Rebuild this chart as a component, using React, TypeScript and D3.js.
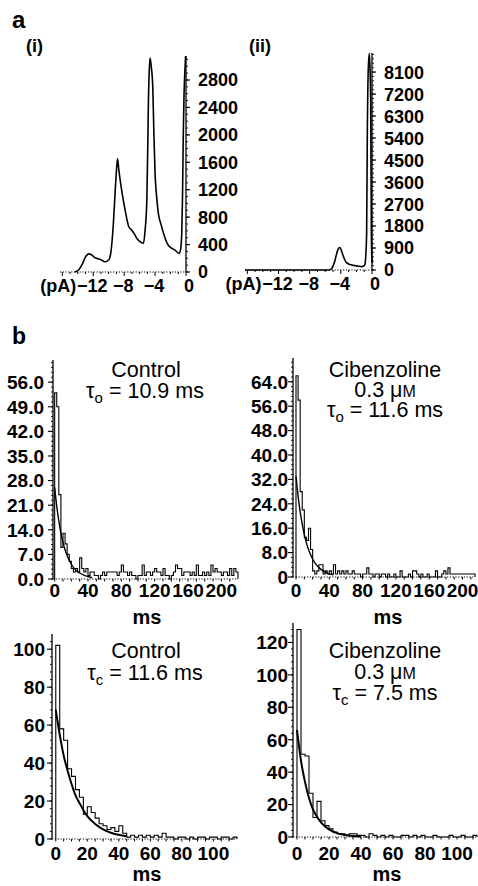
import { useEffect, useRef } from "react";
import * as d3 from "d3";

const FONT = "'Liberation Sans', Arial, Helvetica, sans-serif";

// panel a: amplitude histograms, pA vs counts
const ampCtlPA = [-14.4, -13.9, -13.4, -13.0, -12.6, -12.2, -11.8, -11.4, -11.0, -10.5, -10.0, -9.7, -9.4, -9.15, -8.95, -8.85, -8.7, -8.4, -8.1, -7.7, -7.4, -7.1, -6.7, -6.3, -5.9, -5.5, -5.3, -5.07, -4.95, -4.86, -4.75, -4.65, -4.5, -4.3, -4.15, -4.0, -3.8, -3.57, -3.2, -2.9, -2.6, -2.28, -1.9, -1.42, -0.9, -0.7, -0.55, -0.45, -0.35, -0.25, -0.13, -0.05];
const ampCtlCount = [0, 30, 120, 220, 265, 250, 210, 195, 180, 150, 175, 300, 700, 1200, 1550, 1650, 1500, 1250, 1040, 800, 660, 620, 560, 480, 440, 420, 600, 1040, 1800, 2490, 2950, 3120, 3000, 2700, 2000, 1430, 1100, 850, 680, 560, 460, 390, 350, 320, 270, 330, 560, 1100, 2010, 2600, 2975, 3150];

const ampCibPA = [-16.3, -5.5, -5.2, -4.95, -4.77, -4.55, -4.35, -4.13, -3.95, -3.78, -3.5, -3.27, -2.8, -2.4, -1.8, -1.33, -1.05, -0.9, -0.78, -0.69, -0.6, -0.47, -0.34, -0.25, -0.17, -0.08, 0];
const ampCibCount = [0, 0, 50, 200, 370, 650, 850, 920, 820, 650, 420, 300, 220, 190, 160, 140, 170, 235, 700, 1470, 5580, 8300, 8870, 8200, 6950, 1480, 300];

const ampXTicks = [-12, -8, -4, 0];
const ampCtlTicks = [0, 400, 800, 1200, 1600, 2000, 2400, 2800];
const ampCibTicks = [0, 900, 1800, 2700, 3600, 4500, 5400, 6300, 7200, 8100];

// panel b: dwell time histograms, 2.5 ms bins
const BIN = 2.5;
const openCtl = [
  53, 49, 24, 9, 13, 10, 7, 5, 3, 2,
  3, 2, 6, 3, 2, 3, 1, 2, 2, 1,
  1, 0, 1, 2, 1, 2, 2, 2, 2, 2,
  1, 2, 4, 2, 2, 1, 2, 1, 1, 0,
  1, 1, 4, 1, 2, 2, 1, 2, 3, 2,
  2, 1, 3, 1, 1, 0, 1, 2, 4, 3,
  3, 1, 2, 2, 2, 1, 2, 1, 4, 1,
  1, 2, 1, 2, 1, 4, 2, 3, 2, 2,
  1, 2, 2, 1, 3, 1, 3, 2,
];
const openCib = [
  66, 58, 28, 22, 13, 12, 16, 9, 2, 1,
  2, 4, 4, 1, 2, 1, 2, 1, 4, 1,
  2, 1, 2, 1, 2, 1, 1, 2, 1, 1,
  1, 0, 1, 1, 3, 1, 1, 0, 1, 1,
  0, 1, 1, 0, 1, 0, 0, 1, 0, 0,
  2, 0, 0, 0, 1, 0, 2, 2, 1, 0,
  1, 0, 0, 1, 0, 0, 0, 2, 0, 0,
  1, 2, 1, 3, 1, 1, 1, 1, 1, 1,
  1, 1, 1, 1, 1, 1,
];
const closedCtl = [
  102, 58, 52, 37, 33, 26, 22, 13, 17, 14,
  11, 8, 7, 5, 6, 4, 7, 3, 1, 2,
  1, 2, 1, 2, 1, 2, 1, 3, 1, 1,
  0, 1, 1, 0, 1, 0, 1, 1, 0, 1,
  1, 0, 1, 1, 0, 1,
];
const closedCib = [
  128, 51, 50, 27, 12, 22, 10, 7, 5, 3,
  2, 2, 1, 2, 2, 1, 1, 0, 2, 1,
  0, 1, 0, 1, 0, 0, 1, 1, 0, 1,
  0, 1, 0, 0, 1, 0, 0, 0, 1, 0,
  0, 1, 0, 0, 1,
];

// fitted exponentials
const fitT = [0, 2.5, 5, 7.5, 10, 12.5, 15, 20, 25, 30, 35, 40, 45];
const openCtlFit = [26, 20.7, 16.5, 13, 10.4, 8.3, 6.6, 4.2, 2.6, 1.7, 1.1, 0.7, 0.4];
const openCibFit = [33, 26.6, 21.4, 17.3, 13.9, 11.2, 9, 5.9, 3.8, 2.5, 1.6, 1.0, 0.7];
const closedCtlFit = [68, 55, 44, 36, 29, 23, 19, 12, 7.9, 5.1, 3.3, 2.2, 1.4];
const closedCibFit = [66, 47, 34, 24, 17, 12.5, 9, 4.6, 2.4, 1.2, 0.6, 0.3, 0.15];

const openCtlTicks = [0, 7, 14, 21, 28, 35, 42, 49, 56];
const openCibTicks = [0, 8, 16, 24, 32, 40, 48, 56, 64];
const closedCtlTicks = [0, 20, 40, 60, 80, 100];
const closedCibTicks = [0, 20, 40, 60, 80, 100, 120];
const openXTicks = [0, 40, 80, 120, 160, 200];
const closedXTicks = [0, 20, 40, 60, 80, 100];

const drawAmplitude = (svg, o) => {
  const x = d3.scaleLinear().domain([-16.3, 0]).range([o.left, o.axisX]);
  const y = d3.scaleLinear().domain([0, o.yMax]).range([o.base, o.top]);
  const g = svg.append("g");

  // y axis on the right side
  g.append("line")
    .attr("x1", o.axisX).attr("x2", o.axisX)
    .attr("y1", o.base).attr("y2", o.top)
    .attr("stroke", "#000").attr("stroke-width", 1.3);
  g.selectAll("line.yminor")
    .data(d3.range(0, o.yMax, o.minorY))
    .join("line").attr("class", "yminor")
    .attr("x1", o.axisX).attr("x2", o.axisX + 2)
    .attr("y1", (d) => y(d)).attr("y2", (d) => y(d))
    .attr("stroke", "#000").attr("stroke-width", 0.9);
  g.selectAll("line.ymajor")
    .data(o.yTicks)
    .join("line").attr("class", "ymajor")
    .attr("x1", o.axisX).attr("x2", o.axisX + 4)
    .attr("y1", (d) => y(d)).attr("y2", (d) => y(d))
    .attr("stroke", "#000").attr("stroke-width", 1.2);
  g.selectAll("text.ylab")
    .data(o.yTicks)
    .join("text").attr("class", "ylab")
    .attr("x", o.axisX + 12).attr("y", (d) => y(d)).attr("dy", "0.36em")
    .attr("font-size", 18).attr("font-weight", "bold")
    .text((d) => d);

  // dotted baseline
  g.append("line")
    .attr("x1", o.left).attr("x2", o.axisX)
    .attr("y1", o.base).attr("y2", o.base)
    .attr("stroke", "#000").attr("stroke-width", 1.2)
    .attr("stroke-dasharray", "1.2 1.6");
  g.selectAll("line.xminor")
    .data(d3.range(-16, 0.01, 1))
    .join("line").attr("class", "xminor")
    .attr("x1", (d) => x(d)).attr("x2", (d) => x(d))
    .attr("y1", o.base).attr("y2", (d) => o.base + (d % 4 === 0 ? 4 : 2))
    .attr("stroke", "#000").attr("stroke-width", 1);
  g.selectAll("text.xlab")
    .data(ampXTicks)
    .join("text").attr("class", "xlab")
    .attr("x", (d) => x(d) + (d === 0 ? 3 : -1)).attr("y", o.base + 14).attr("dy", "0.36em")
    .attr("text-anchor", "middle")
    .attr("font-size", 18).attr("font-weight", "bold")
    .text((d) => (d < 0 ? "\u2212" + Math.abs(d) : d));
  g.append("text")
    .attr("x", x(-12) - 17).attr("y", o.base + 14).attr("dy", "0.36em")
    .attr("text-anchor", "end")
    .attr("font-size", 18).attr("font-weight", "bold")
    .text("(pA)");

  const line = d3.line()
    .x((d) => x(d[0]))
    .y((d) => y(d[1]))
    .curve(d3.curveMonotoneX);
  g.append("path")
    .attr("d", line(d3.zip(o.pa, o.counts)))
    .attr("fill", "none").attr("stroke", "#000").attr("stroke-width", 1.6);
};

const drawDwell = (svg, o) => {
  const x = d3.scaleLinear().domain([o.lo, o.hi]).range([o.left, o.right]);
  const y = d3.scaleLinear().domain([0, o.yMax]).range([o.base, o.top]);
  const g = svg.append("g");

  // y axis
  g.append("line")
    .attr("x1", o.left).attr("x2", o.left)
    .attr("y1", o.base).attr("y2", o.top)
    .attr("stroke", "#000").attr("stroke-width", 1.3);
  g.selectAll("line.yminor")
    .data(d3.range(0, o.yMax, o.yMinor))
    .join("line").attr("class", "yminor")
    .attr("x1", o.left - 2).attr("x2", o.left)
    .attr("y1", (d) => y(d)).attr("y2", (d) => y(d))
    .attr("stroke", "#000").attr("stroke-width", 0.9);
  g.selectAll("line.ymajor")
    .data(o.yTicks)
    .join("line").attr("class", "ymajor")
    .attr("x1", o.left - 5).attr("x2", o.left)
    .attr("y1", (d) => y(d)).attr("y2", (d) => y(d))
    .attr("stroke", "#000").attr("stroke-width", 1.1);
  g.selectAll("text.ylab")
    .data(o.yTicks)
    .join("text").attr("class", "ylab")
    .attr("x", o.labelRight).attr("y", (d) => y(d)).attr("dy", "0.36em")
    .attr("text-anchor", "end")
    .attr("font-size", 19).attr("font-weight", "bold")
    .text(o.yFmt);

  // dotted baseline with ticks
  g.append("line")
    .attr("x1", o.left).attr("x2", o.right)
    .attr("y1", o.base).attr("y2", o.base)
    .attr("stroke", "#000").attr("stroke-width", 1.2)
    .attr("stroke-dasharray", "1.2 1.6");
  g.selectAll("line.xminor")
    .data(d3.range(0, o.hi, o.xMinor))
    .join("line").attr("class", "xminor")
    .attr("x1", (d) => x(d)).attr("x2", (d) => x(d))
    .attr("y1", o.base).attr("y2", o.base + 2.5)
    .attr("stroke", "#000").attr("stroke-width", 1);
  g.selectAll("text.xlab")
    .data(o.xTicks)
    .join("text").attr("class", "xlab")
    .attr("x", (d) => x(d)).attr("y", o.xLabelY).attr("dy", "0.36em")
    .attr("text-anchor", "middle")
    .attr("font-size", 19).attr("font-weight", "bold")
    .text((d) => d);
  g.append("text")
    .attr("x", o.msX).attr("y", o.msY).attr("dy", "0.36em")
    .attr("text-anchor", "middle")
    .attr("font-size", 20).attr("font-weight", "bold")
    .text("ms");

  // histogram outline
  const n = o.bins.length;
  const pts = [[0, 0], ...o.bins.map((v, i) => [i * BIN, v]), [n * BIN, o.bins[n - 1]], [n * BIN, 0]];
  const step = d3.line()
    .x((d) => x(d[0]))
    .y((d) => y(d[1]))
    .curve(d3.curveStepAfter);
  g.append("path")
    .attr("d", step(pts))
    .attr("fill", "none").attr("stroke", "#000").attr("stroke-width", 1.1);

  // fitted curve
  const fit = d3.line()
    .x((d) => x(d[0]))
    .y((d) => y(d[1]))
    .curve(d3.curveMonotoneX);
  g.append("path")
    .attr("d", fit(d3.zip(fitT, o.fit).filter((d) => d[0] <= o.fitEnd)))
    .attr("fill", "none").attr("stroke", "#000").attr("stroke-width", o.fitWidth);
};

const tauLine = (svg, cx, y, sub, rest) => {
  const t = svg.append("text")
    .attr("x", cx).attr("y", y)
    .attr("text-anchor", "middle").attr("font-size", 21.5);
  t.append("tspan").text("\u03c4");
  t.append("tspan").attr("font-size", 15).attr("dy", 5).text(sub);
  t.append("tspan").attr("dy", -5).text(" = " + rest);
};

const plainLine = (svg, cx, y, s) =>
  svg.append("text")
    .attr("x", cx).attr("y", y)
    .attr("text-anchor", "middle").attr("font-size", 21.5)
    .text(s);

const doseLine = (svg, cx, y) => {
  const t = svg.append("text")
    .attr("x", cx).attr("y", y)
    .attr("text-anchor", "middle").attr("font-size", 21.5);
  t.append("tspan").text("0.3 \u03bc");
  t.append("tspan").attr("font-size", 16).text("M");
};

const App = () => {
  const ref = useRef(null);

  useEffect(() => {
    const svg = d3.select(ref.current);
    svg.selectAll("*").remove(); // clear

    // panel letters
    svg.append("text").attr("x", 12).attr("y", 28)
      .attr("font-size", 24).attr("font-weight", "bold").text("a");
    svg.append("text").attr("x", 12).attr("y", 344)
      .attr("font-size", 23).attr("font-weight", "bold").text("b");
    svg.append("text").attr("x", 26).attr("y", 52)
      .attr("font-size", 18).attr("font-weight", "bold").text("(i)");
    svg.append("text").attr("x", 249).attr("y", 52)
      .attr("font-size", 18).attr("font-weight", "bold").text("(ii)");

    drawAmplitude(svg, {
      left: 60, axisX: 186, base: 272, top: 56, yMax: 3150,
      minorY: 100, yTicks: ampCtlTicks, pa: ampCtlPA, counts: ampCtlCount,
    });
    drawAmplitude(svg, {
      left: 245, axisX: 372, base: 270, top: 53, yMax: 8880,
      minorY: 180, yTicks: ampCibTicks, pa: ampCibPA, counts: ampCibCount,
    });

    drawDwell(svg, {
      left: 53, right: 238, lo: -2, hi: 220, base: 579, top: 360, yMax: 62.3,
      yTicks: openCtlTicks, yFmt: (d) => d.toFixed(1), yMinor: 1.4,
      xTicks: openXTicks, xMinor: 10, bins: openCtl, fit: openCtlFit, fitEnd: 45,
      fitWidth: 1.4, labelRight: 44, xLabelY: 590, msX: 147, msY: 617,
    });
    drawDwell(svg, {
      left: 293, right: 475, lo: -3.6, hi: 215, base: 577, top: 358, yMax: 71.8,
      yTicks: openCibTicks, yFmt: (d) => (d === 0 ? "0" : d.toFixed(1)), yMinor: 1.6,
      xTicks: openXTicks, xMinor: 10, bins: openCib, fit: openCibFit, fitEnd: 45,
      fitWidth: 1.4, labelRight: 288, xLabelY: 590, msX: 388, msY: 617,
    });
    drawDwell(svg, {
      left: 52, right: 237, lo: -2.4, hi: 115, base: 839, top: 634, yMax: 108,
      yTicks: closedCtlTicks, yFmt: (d) => d, yMinor: 4,
      xTicks: closedXTicks, xMinor: 5, bins: closedCtl, fit: closedCtlFit, fitEnd: 45,
      fitWidth: 2, labelRight: 45, xLabelY: 853, msX: 147, msY: 874,
    });
    drawDwell(svg, {
      left: 293, right: 477, lo: -2.5, hi: 112.5, base: 837, top: 623, yMax: 132,
      yTicks: closedCibTicks, yFmt: (d) => d, yMinor: 4,
      xTicks: closedXTicks, xMinor: 5, bins: closedCib, fit: closedCibFit, fitEnd: 40,
      fitWidth: 2, labelRight: 288, xLabelY: 853, msX: 387, msY: 874,
    });

    // titles
    plainLine(svg, 146, 377, "Control");
    tauLine(svg, 145, 398, "o", "10.9 ms");
    plainLine(svg, 385, 377, "Cibenzoline");
    doseLine(svg, 385, 397);
    tauLine(svg, 385, 417, "o", "11.6 ms");

    plainLine(svg, 146, 658, "Control");
    tauLine(svg, 145, 680, "c", "11.6 ms");
    plainLine(svg, 385, 658, "Cibenzoline");
    doseLine(svg, 385, 679);
    tauLine(svg, 385, 700, "c", "7.5 ms");
  }, []);

  return (
    <svg
      ref={ref}
      width={478}
      height={886}
      fontFamily={FONT}
      style={{ position: "absolute", left: 0, top: 0, background: "#fff" }}
    ></svg>
  );
};

export default App;
